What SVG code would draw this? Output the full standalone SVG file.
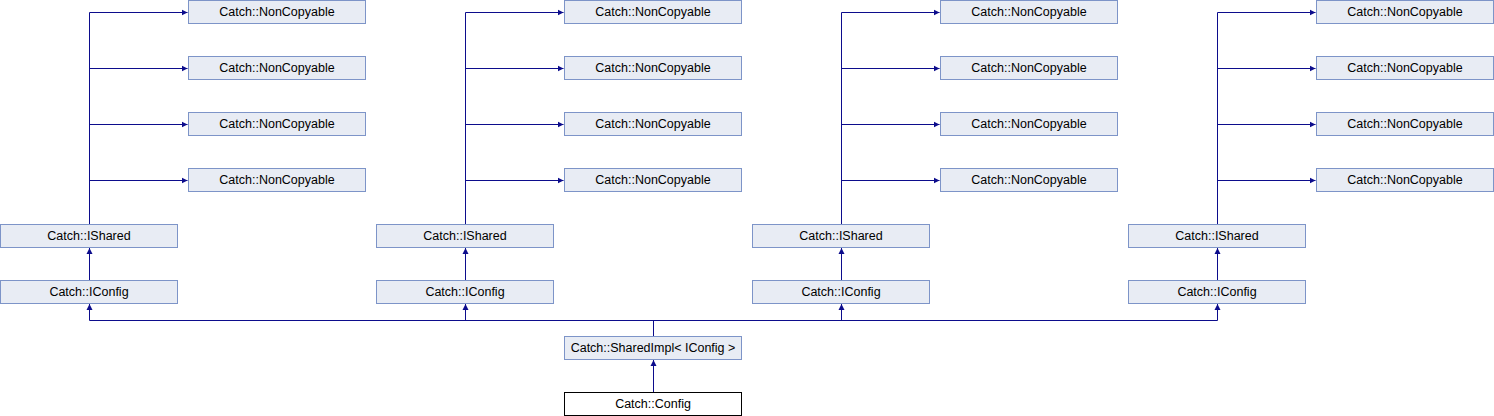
<svg xmlns="http://www.w3.org/2000/svg" width="1494" height="416" viewBox="0 0 1494 416">
<defs>
<style>
.n rect{fill:#e8ecf4;stroke:#7d94c8;stroke-width:1}
.n.w rect{fill:#ffffff;stroke:#000000}
.n text{font-family:"Liberation Sans",Arial,sans-serif;font-size:12.5px;fill:#000000;text-anchor:middle}
.e{fill:none;stroke:#0c0c8c;stroke-width:1}
</style>
<marker id="a" markerWidth="7" markerHeight="7" refX="6" refY="3.5" orient="auto" markerUnits="userSpaceOnUse">
<path d="M0,0.5 L6,3.5 L0,6.5 Z" fill="#0c0c8c"/>
</marker>
</defs>
<rect width="1494" height="416" fill="#ffffff"/>
<g id="connectors">
<path class="e" d="M89.5,224 V12.5 H187.5" marker-end="url(#a)"/>
<path class="e" d="M89.5,68.5 H187.5" marker-end="url(#a)"/>
<path class="e" d="M89.5,124.5 H187.5" marker-end="url(#a)"/>
<path class="e" d="M89.5,180.5 H187.5" marker-end="url(#a)"/>
<path class="e" d="M89.5,280 V248" marker-end="url(#a)"/>
<path class="e" d="M465.5,224 V12.5 H563.5" marker-end="url(#a)"/>
<path class="e" d="M465.5,68.5 H563.5" marker-end="url(#a)"/>
<path class="e" d="M465.5,124.5 H563.5" marker-end="url(#a)"/>
<path class="e" d="M465.5,180.5 H563.5" marker-end="url(#a)"/>
<path class="e" d="M465.5,280 V248" marker-end="url(#a)"/>
<path class="e" d="M841.5,224 V12.5 H939.5" marker-end="url(#a)"/>
<path class="e" d="M841.5,68.5 H939.5" marker-end="url(#a)"/>
<path class="e" d="M841.5,124.5 H939.5" marker-end="url(#a)"/>
<path class="e" d="M841.5,180.5 H939.5" marker-end="url(#a)"/>
<path class="e" d="M841.5,280 V248" marker-end="url(#a)"/>
<path class="e" d="M1217.5,224 V12.5 H1315.5" marker-end="url(#a)"/>
<path class="e" d="M1217.5,68.5 H1315.5" marker-end="url(#a)"/>
<path class="e" d="M1217.5,124.5 H1315.5" marker-end="url(#a)"/>
<path class="e" d="M1217.5,180.5 H1315.5" marker-end="url(#a)"/>
<path class="e" d="M1217.5,280 V248" marker-end="url(#a)"/>
<path class="e" d="M89.5,320.5 H1217.5"/>
<path class="e" d="M653.5,336 V320.5"/>
<path class="e" d="M89.5,320.5 V304" marker-end="url(#a)"/>
<path class="e" d="M465.5,320.5 V304" marker-end="url(#a)"/>
<path class="e" d="M841.5,320.5 V304" marker-end="url(#a)"/>
<path class="e" d="M1217.5,320.5 V304" marker-end="url(#a)"/>
<path class="e" d="M653.5,392 V360" marker-end="url(#a)"/>
</g>
<g id="nc1a" class="n"><rect x="188.5" y="0.5" width="177" height="23"/><text x="277" y="15.5">Catch::NonCopyable</text></g>
<g id="nc1b" class="n"><rect x="188.5" y="56.5" width="177" height="23"/><text x="277" y="71.5">Catch::NonCopyable</text></g>
<g id="nc1c" class="n"><rect x="188.5" y="112.5" width="177" height="23"/><text x="277" y="127.5">Catch::NonCopyable</text></g>
<g id="nc1d" class="n"><rect x="188.5" y="168.5" width="177" height="23"/><text x="277" y="183.5">Catch::NonCopyable</text></g>
<g id="nc2a" class="n"><rect x="564.5" y="0.5" width="177" height="23"/><text x="653" y="15.5">Catch::NonCopyable</text></g>
<g id="nc2b" class="n"><rect x="564.5" y="56.5" width="177" height="23"/><text x="653" y="71.5">Catch::NonCopyable</text></g>
<g id="nc2c" class="n"><rect x="564.5" y="112.5" width="177" height="23"/><text x="653" y="127.5">Catch::NonCopyable</text></g>
<g id="nc2d" class="n"><rect x="564.5" y="168.5" width="177" height="23"/><text x="653" y="183.5">Catch::NonCopyable</text></g>
<g id="nc3a" class="n"><rect x="940.5" y="0.5" width="177" height="23"/><text x="1029" y="15.5">Catch::NonCopyable</text></g>
<g id="nc3b" class="n"><rect x="940.5" y="56.5" width="177" height="23"/><text x="1029" y="71.5">Catch::NonCopyable</text></g>
<g id="nc3c" class="n"><rect x="940.5" y="112.5" width="177" height="23"/><text x="1029" y="127.5">Catch::NonCopyable</text></g>
<g id="nc3d" class="n"><rect x="940.5" y="168.5" width="177" height="23"/><text x="1029" y="183.5">Catch::NonCopyable</text></g>
<g id="nc4a" class="n"><rect x="1316.5" y="0.5" width="177" height="23"/><text x="1405" y="15.5">Catch::NonCopyable</text></g>
<g id="nc4b" class="n"><rect x="1316.5" y="56.5" width="177" height="23"/><text x="1405" y="71.5">Catch::NonCopyable</text></g>
<g id="nc4c" class="n"><rect x="1316.5" y="112.5" width="177" height="23"/><text x="1405" y="127.5">Catch::NonCopyable</text></g>
<g id="nc4d" class="n"><rect x="1316.5" y="168.5" width="177" height="23"/><text x="1405" y="183.5">Catch::NonCopyable</text></g>
<g id="ish1" class="n"><rect x="0.5" y="224.5" width="177" height="23"/><text x="89" y="239.5">Catch::IShared</text></g>
<g id="ish2" class="n"><rect x="376.5" y="224.5" width="177" height="23"/><text x="465" y="239.5">Catch::IShared</text></g>
<g id="ish3" class="n"><rect x="752.5" y="224.5" width="177" height="23"/><text x="841" y="239.5">Catch::IShared</text></g>
<g id="ish4" class="n"><rect x="1128.5" y="224.5" width="177" height="23"/><text x="1217" y="239.5">Catch::IShared</text></g>
<g id="icf1" class="n"><rect x="0.5" y="280.5" width="177" height="23"/><text x="89" y="295.5">Catch::IConfig</text></g>
<g id="icf2" class="n"><rect x="376.5" y="280.5" width="177" height="23"/><text x="465" y="295.5">Catch::IConfig</text></g>
<g id="icf3" class="n"><rect x="752.5" y="280.5" width="177" height="23"/><text x="841" y="295.5">Catch::IConfig</text></g>
<g id="icf4" class="n"><rect x="1128.5" y="280.5" width="177" height="23"/><text x="1217" y="295.5">Catch::IConfig</text></g>
<g id="simpl" class="n"><rect x="564.5" y="336.5" width="177" height="23"/><text x="653" y="351.5">Catch::SharedImpl&lt; IConfig &gt;</text></g>
<g id="config" class="n w"><rect x="564.5" y="392.5" width="177" height="23"/><text x="653" y="407.5">Catch::Config</text></g>
</svg>
